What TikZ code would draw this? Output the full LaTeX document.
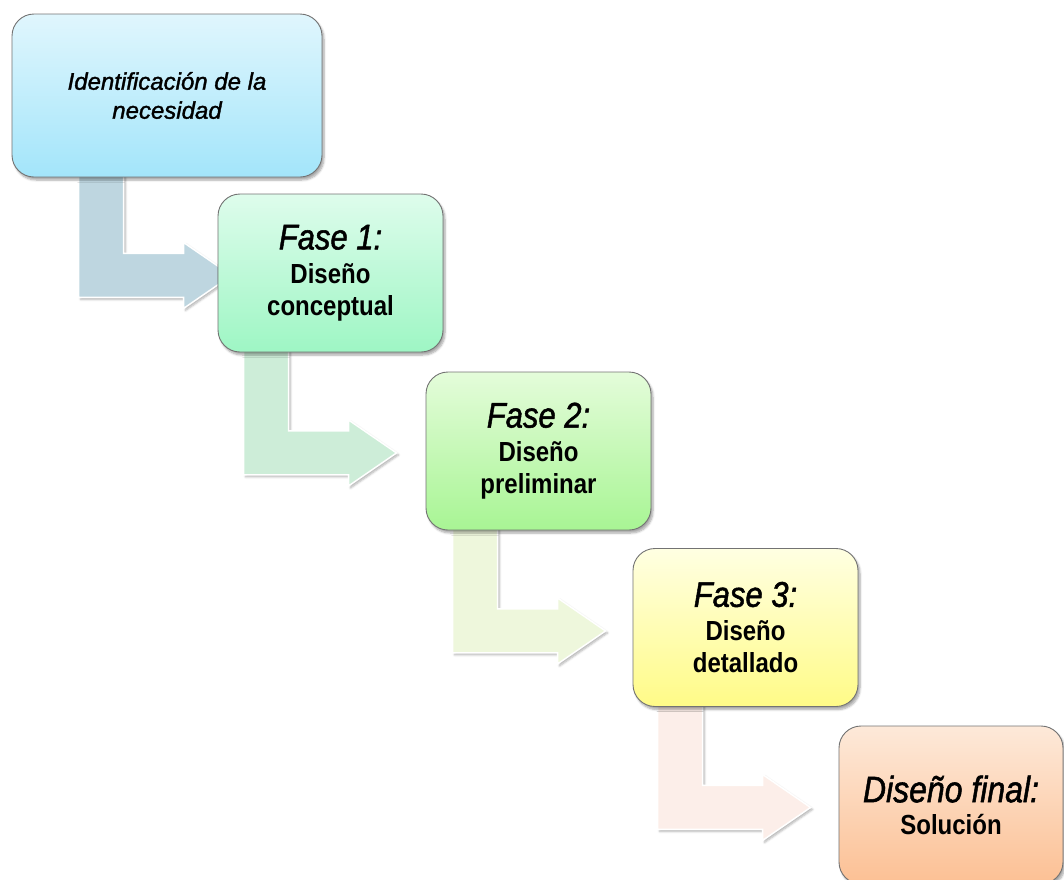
\documentclass[tikz,border=0pt]{standalone}
\usepackage{graphicx}
\usepackage{fontspec}
\setmainfont{Liberation Sans}
\newfontfamily\heavyit{Liberation Sans}[FakeBold=1.5]
\usetikzlibrary{calc,shadows.blur}
\pgfdeclarelayer{background}
\pgfsetlayers{background,main}
\definecolor{b1top}{RGB}{224,246,253}
\definecolor{b1bot}{RGB}{163,229,250}
\definecolor{b2top}{RGB}{222,252,236}
\definecolor{b2bot}{RGB}{158,246,196}
\definecolor{b3top}{RGB}{228,252,218}
\definecolor{b3bot}{RGB}{168,245,148}
\definecolor{b4top}{RGB}{255,255,226}
\definecolor{b4bot}{RGB}{255,251,135}
\definecolor{b5top}{RGB}{253,233,217}
\definecolor{b5bot}{RGB}{252,192,148}
\definecolor{a1col}{RGB}{190,214,224}
\definecolor{a2col}{RGB}{205,237,216}
\definecolor{a3col}{RGB}{238,247,220}
\definecolor{a4col}{RGB}{252,238,233}
\tikzset{
  box/.style={rectangle, rounded corners=22pt, draw=black!55, line width=0.9pt,
    minimum width=225pt, minimum height=158pt, inner sep=0pt, align=center,
    blur shadow={shadow xshift=2pt, shadow yshift=-3pt, shadow blur steps=6, shadow opacity=35},
    font=\fontsize{24}{32}\selectfont\bfseries},
  barrow/.style={fill=#1, draw=white, line width=1.5pt, line join=miter,
    blur shadow={shadow xshift=2pt, shadow yshift=-2pt, shadow blur steps=5, shadow opacity=30}},
}
\newcommand\blockarrow[3]{%
  \filldraw[barrow=#1] (#2) -- ++(45,0) -- ++(0,#3) -- ++(60,0) -- ++(0,-11)
    -- ++(48,33) -- ++(-48,33) -- ++(0,-11) -- ++(-105,0) -- cycle;}
\newcommand\tall[1]{\scalebox{1}[1.15]{#1}}
\newcommand\fasefont{\fontsize{31}{32}\selectfont\heavyit\mdseries\itshape}
\begin{document}
\begin{tikzpicture}[x=1pt,y=-1pt]
\useasboundingbox (0,0) rectangle (1064,879);
\clip (0,0) rectangle (1064,879);

\node[box, minimum width=310pt, minimum height=163pt, top color=b1top, bottom color=b1bot,
  font=\fontsize{24}{29}\selectfont\heavyit\mdseries\itshape] (b1) at (167,95.5)
  {Identificación de la\\necesidad};
\node[box, top color=b2top, bottom color=b2bot] (b2) at (330.5,273)
  {\tall{\fasefont Fase 1:}\\[2pt]\tall{Diseño}\\\tall{conceptual}};
\node[box, top color=b3top, bottom color=b3bot] (b3) at (538.5,451)
  {\tall{\fasefont Fase 2:}\\[2pt]\tall{Diseño}\\\tall{preliminar}};
\node[box, top color=b4top, bottom color=b4bot] (b4) at (745.5,627.5)
  {\tall{\fasefont Fase 3:}\\[2pt]\tall{Diseño}\\\tall{detallado}};
\node[box, minimum width=224pt, top color=b5top, bottom color=b5bot] (b5) at (951,805)
  {\tall{\fasefont\fontsize{32}{32}\selectfont Diseño final:}\\\tall{Solución}};

\coordinate (s1) at ($(b1.south west)+(67,-12)$);
\coordinate (s2) at ($(b2.south west)+(26,-12)$);
\coordinate (s3) at ($(b3.south west)+(27,-12)$);
\coordinate (s4) at ($(b4.south west)+(25,-12)$);

\begin{pgfonlayer}{background}
  \blockarrow{a1col}{s1}{88}
  \blockarrow{a2col}{s2}{90.5}
  \blockarrow{a3col}{s3}{90.5}
  \blockarrow{a4col}{s4}{90.5}
\end{pgfonlayer}
\end{tikzpicture}
\end{document}
